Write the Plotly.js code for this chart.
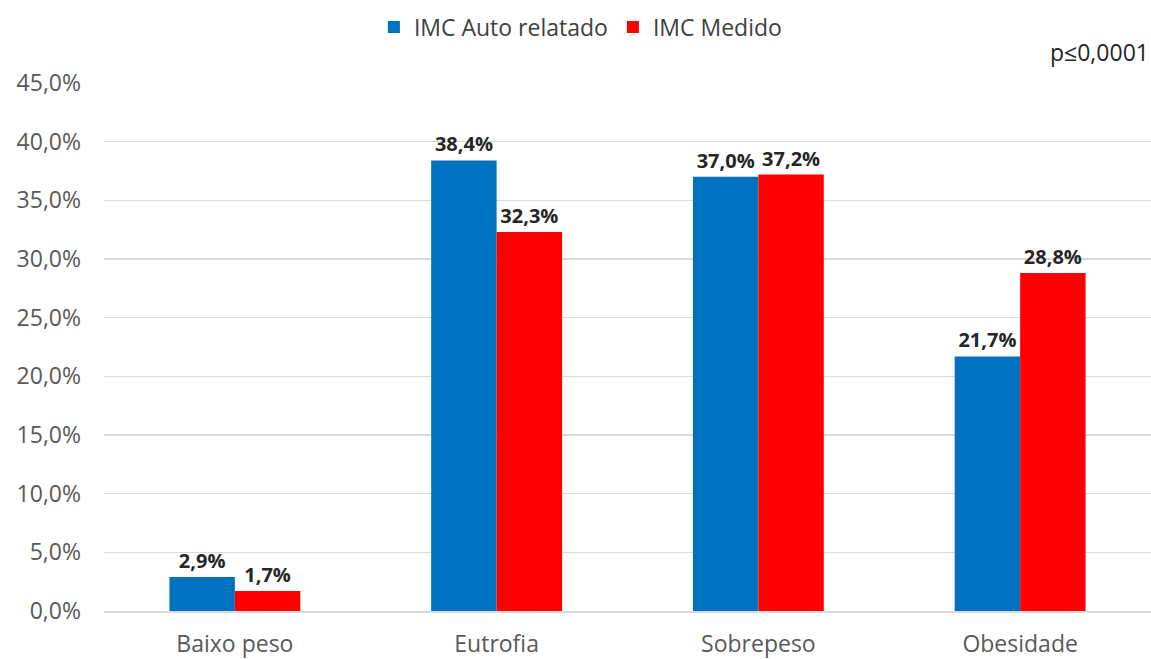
<!DOCTYPE html>
<html>
<head>
<meta charset="utf-8">
<script src="https://cdn.plot.ly/plotly-3.0.1.min.js"></script>
<style>html,body{margin:0;padding:0;background:#fff;}#chart{width:1151px;height:659px;}</style>
</head>
<body>
<div id="chart"></div>
<script>
const categories = ["Baixo peso", "Eutrofia", "Sobrepeso", "Obesidade"];
const seriesNames = ["IMC Auto relatado", "IMC Medido"];
const autoRelatado = [0.029, 0.384, 0.370, 0.217];
const medido = [0.017, 0.323, 0.372, 0.288];
const annotationText = "p≤0,0001";

const fontFam = "'Open Sans', 'Noto Sans', sans-serif";
const traces = [
  {type: "bar", name: seriesNames[0], x: categories, y: autoRelatado,
   marker: {color: "#0070C0"}, texttemplate: "<b>%{y:.1%}</b>", textposition: "outside",
   textfont: {family: fontFam, size: 20, color: "#262626"}, cliponaxis: false},
  {type: "bar", name: seriesNames[1], x: categories, y: medido,
   marker: {color: "#FF0000"}, texttemplate: "<b>%{y:.1%}</b>", textposition: "outside",
   textfont: {family: fontFam, size: 20, color: "#262626"}, cliponaxis: false}
];
const layout = {
  width: 1151, height: 659,
  margin: {l: 104, r: 0, t: 83, b: 48},
  separators: ",.",
  font: {family: fontFam, size: 23, color: "#595959"},
  barmode: "group", bargap: 0.5, bargroupgap: 0,
  paper_bgcolor: "#fff", plot_bgcolor: "#fff",
  xaxis: {showgrid: false, showline: true, linecolor: "#d9d9d9", linewidth: 1.5, ticks: "",
          tickfont: {size: 23, color: "#595959"}, ticklabelstandoff: 12},
  yaxis: {range: [0, 0.45], dtick: 0.05, tickformat: ".1%", gridcolor: "#d9d9d9", gridwidth: 1.5,
          zeroline: false, showline: false, ticks: "", ticklen: 0, ticklabelstandoff: 22,
          tickfont: {size: 23, color: "#595959"}, automargin: false},
  showlegend: true,
  legend: {orientation: "h", x: 0.455, xanchor: "center", y: 1.106, yanchor: "middle",
           font: {size: 23, color: "#404040"}, traceorder: "normal"},
  annotations: [{text: annotationText, xref: "paper", yref: "paper", x: 1.0, xanchor: "right",
                 y: 1.059, yanchor: "middle", showarrow: false,
                 font: {size: 23, color: "#262626"}}]
};
Plotly.newPlot("chart", traces, layout, {displayModeBar: false, staticPlot: true});
</script>
</body>
</html>
